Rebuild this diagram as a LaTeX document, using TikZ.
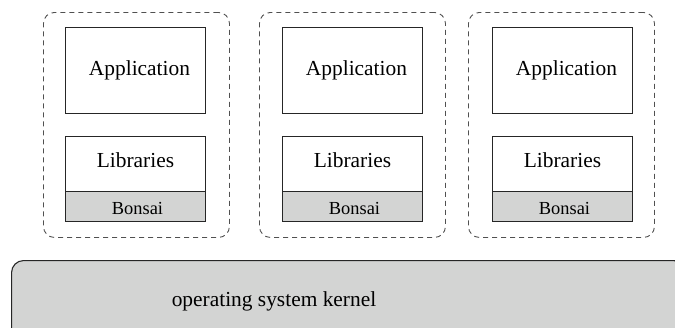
\documentclass[tikz,border=0pt]{standalone}
\usepackage{fontspec}
\setmainfont{Liberation Serif}
\newfontfamily\diagserif{Liberation Serif}
\usetikzlibrary{calc}
\definecolor{boxgray}{RGB}{211,212,211}
\definecolor{dashgray}{RGB}{80,80,80}
\tikzset{
  container/.style={draw=dashgray, line width=0.9pt, dash pattern=on 5pt off 4pt, rounded corners=11pt, anchor=north west, inner sep=0pt, minimum width=186pt, minimum height=225pt},
  layerbox/.style={draw=black!85, line width=1.1pt, anchor=north west, inner sep=0pt, minimum width=140pt},
  bonsaibox/.style={layerbox, fill=boxgray, minimum height=30pt},
  kernelbox/.style={draw=black!85, line width=1.1pt, fill=boxgray, rounded corners=12pt, anchor=north west, inner sep=0pt, minimum width=674pt, minimum height=100pt},
  bigtext/.style={font=\diagserif\fontsize{21.4}{25}\selectfont, inner sep=0pt, anchor=base},
  smalltext/.style={font=\diagserif\fontsize{18.4}{22}\selectfont, inner sep=0pt, anchor=base}
}
\begin{document}
\begin{tikzpicture}[x=1pt,y=-1pt]
\useasboundingbox (0,0) rectangle (675,327);
\clip (0,0) rectangle (675,327);
% kernel
\node[kernelbox] (kernel) at (11,260) {};
\node[bigtext] (kerneltext) at (274,306.5) {operating system kernel};
% three containers
\foreach \i/\dx/\ax in {1/43/65, 2/259/282, 3/468/492} {
  \node[container] (cont\i) at (\dx,12) {};
  \node[layerbox, minimum height=86pt] (appbox\i) at (\ax,27) {};
  \node[layerbox, minimum height=55pt] (libbox\i) at (\ax,136) {};
  \node[bonsaibox] (bonbox\i) at (\ax,191) {};
  \node[bigtext] (app\i) at ($(\ax,75)+(74.5,0)$) {Application};
  \node[bigtext] (lib\i) at ($(\ax,167.7)+(70.5,0)$) {Libraries};
  \node[smalltext] (bon\i) at ($(\ax,214)+(72.5,0)$) {Bonsai};
}
\end{tikzpicture}
\end{document}
